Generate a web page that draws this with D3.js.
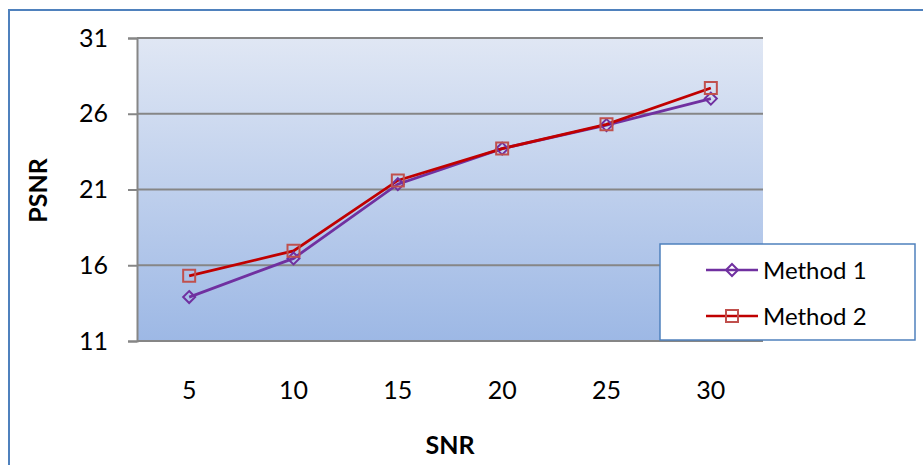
<!DOCTYPE html>
<html lang="en">
<head>
    <meta charset="UTF-8">
    <title>PSNR vs SNR</title>
    <script src="https://d3js.org/d3.v7.min.js"></script>
    <style>
        body { margin: 0; background: #fff; }
        svg { display: block; font-family: Lato, "Open Sans", sans-serif; }
    </style>
</head>
<body>
    <script>
        // Data
        const snr = ["5", "10", "15", "20", "25", "30"];
        const method1 = [13.9, 16.45, 21.35, 23.7, 25.25, 27.0];
        const method2 = [15.3, 16.95, 21.6, 23.7, 25.3, 27.7];
        const yTicks = [11, 16, 21, 26, 31];
        const seriesNames = ["Method 1", "Method 2"];

        const W = 923, H = 465;
        const plot = { left: 137, top: 38, right: 763, bottom: 341 };

        const svg = d3.select("body").append("svg")
            .attr("width", W)
            .attr("height", H);

        // Plot background gradient
        const defs = svg.append("defs");
        const grad = defs.append("linearGradient")
            .attr("id", "bg")
            .attr("x1", 0).attr("y1", 0).attr("x2", 0).attr("y2", 1);
        grad.append("stop").attr("offset", "0%").attr("stop-color", "#e0e7f4");
        grad.append("stop").attr("offset", "100%").attr("stop-color", "#9db8e5");

        // Outer chart border
        svg.append("rect")
            .attr("x", 9).attr("y", 10)
            .attr("width", W + 10).attr("height", H + 10)
            .attr("fill", "none")
            .attr("stroke", "#4f81bd")
            .attr("stroke-width", 2);

        // Scales
        const x = d3.scaleBand()
            .domain(snr)
            .range([plot.left, plot.right]);

        const y = d3.scaleLinear()
            .domain([11, 31])
            .range([plot.bottom, plot.top]);

        svg.append("rect")
            .attr("x", plot.left).attr("y", plot.top)
            .attr("width", plot.right - plot.left)
            .attr("height", plot.bottom - plot.top)
            .attr("fill", "url(#bg)");

        // Y axis with gridlines
        const yAxis = svg.append("g")
            .attr("transform", `translate(${plot.left},0)`)
            .call(d3.axisLeft(y).tickValues(yTicks).tickSize(9).tickPadding(20));
        yAxis.select(".domain").attr("stroke", "#868686").attr("stroke-width", 2);
        yAxis.selectAll(".tick line").attr("stroke", "#868686").attr("stroke-width", 2);
        yAxis.selectAll(".tick text")
            .attr("font-size", 25)
            .attr("fill", "#000")
            .attr("font-family", "Lato, sans-serif");

        svg.append("g")
            .selectAll("line")
            .data(yTicks)
            .join("line")
            .attr("x1", plot.left).attr("x2", plot.right)
            .attr("y1", d => y(d)).attr("y2", d => y(d))
            .attr("stroke", "#868686")
            .attr("stroke-width", 2);

        // X axis labels (no ticks)
        const xAxis = svg.append("g")
            .attr("transform", `translate(0,${plot.bottom})`)
            .call(d3.axisBottom(x).tickSize(0).tickPadding(40));
        xAxis.select(".domain").remove();
        xAxis.selectAll(".tick text")
            .attr("font-size", 25)
            .attr("fill", "#000")
            .attr("font-family", "Lato, sans-serif");

        // Axis titles
        svg.append("text")
            .attr("x", x("15") + x.bandwidth())
            .attr("y", 454)
            .attr("text-anchor", "middle")
            .attr("font-size", 25)
            .attr("font-weight", "bold")
            .text("SNR");

        svg.append("text")
            .attr("transform", `translate(47,${(plot.top + plot.bottom) / 2 + 1}) rotate(-90)`)
            .attr("text-anchor", "middle")
            .attr("font-size", 25)
            .attr("font-weight", "bold")
            .text("PSNR");

        const cx = d => x(d) + x.bandwidth() / 2;
        const line = d3.line()
            .x((d, i) => cx(snr[i]))
            .y(d => y(d));

        const series = [
            { name: seriesNames[0], values: method1, line: "#7030a0", marker: "#7030a0", shape: "diamond" },
            { name: seriesNames[1], values: method2, line: "#c00000", marker: "#c0504d", shape: "square" }
        ];

        const markerPath = (s) => s.shape === "diamond"
            ? "M0,-6L6,0L0,6L-6,0Z"
            : "M-6,-6H6V6H-6Z";

        // Draw method 1 first, method 2 on top
        series.forEach(s => {
            svg.append("path")
                .datum(s.values)
                .attr("d", line)
                .attr("fill", "none")
                .attr("stroke", s.line)
                .attr("stroke-width", 2.8);
        });
        series.forEach(s => {
            svg.append("g")
                .selectAll("path")
                .data(s.values)
                .join("path")
                .attr("transform", (d, i) => `translate(${cx(snr[i])},${y(d)})`)
                .attr("d", markerPath(s))
                .attr("fill", "none")
                .attr("stroke", s.marker)
                .attr("stroke-width", 2);
        });

        // Legend
        const legend = svg.append("g");
        legend.append("rect")
            .attr("x", 660).attr("y", 244)
            .attr("width", 255).attr("height", 96)
            .attr("fill", "#fff")
            .attr("stroke", "#4f81bd")
            .attr("stroke-width", 1.5);

        series.forEach((s, i) => {
            const ly = 270 + i * 46;
            legend.append("line")
                .attr("x1", 706).attr("x2", 758)
                .attr("y1", ly).attr("y2", ly)
                .attr("stroke", s.line)
                .attr("stroke-width", 2.5);
            legend.append("path")
                .attr("transform", `translate(732,${ly})`)
                .attr("d", markerPath(s))
                .attr("fill", "none")
                .attr("stroke", s.marker)
                .attr("stroke-width", 2);
            legend.append("text")
                .attr("x", 763)
                .attr("y", ly + 9)
                .attr("font-size", 24)
                .text(s.name);
        });
    </script>
</body>
</html>
